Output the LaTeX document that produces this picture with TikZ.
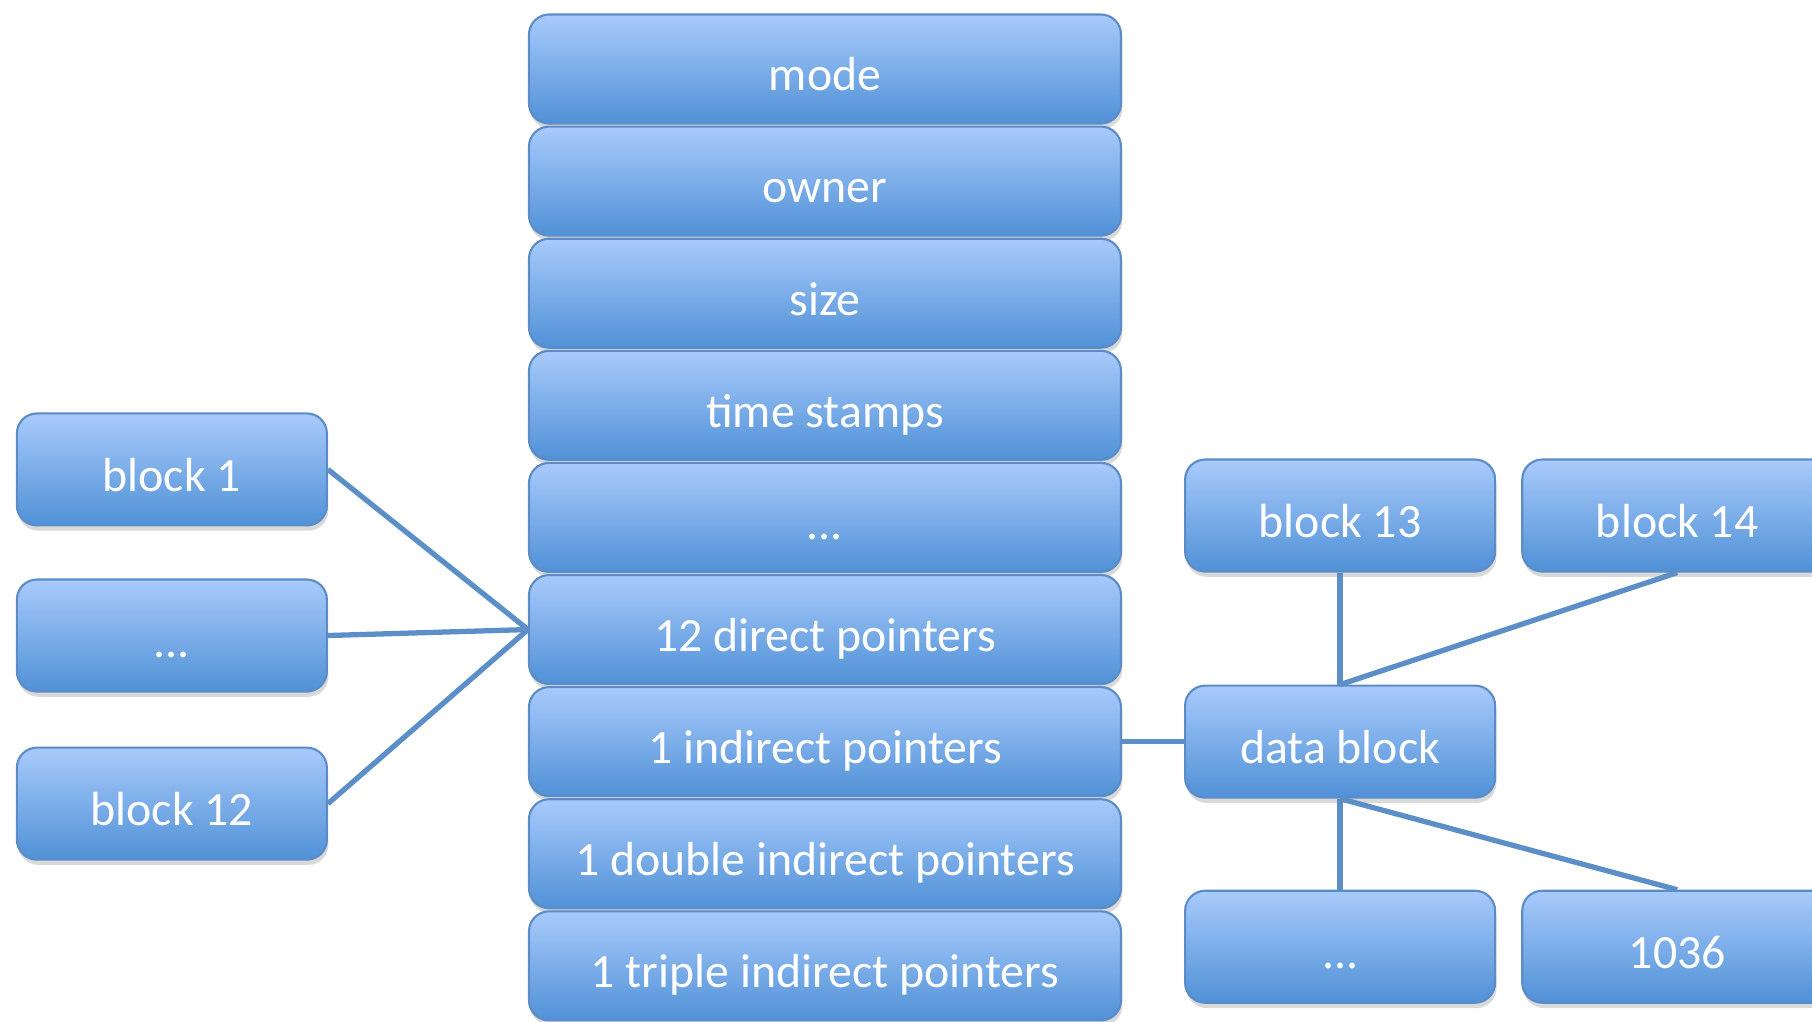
\documentclass[tikz,border=0pt]{standalone}
\usepackage{fontspec}
\setmainfont{Carlito}
\usetikzlibrary{positioning,shadows}
\definecolor{boxtop}{RGB}{168,202,251}
\definecolor{boxbottom}{RGB}{80,145,214}
\definecolor{boxline}{RGB}{92,140,200}
\definecolor{linkcol}{RGB}{92,142,200}
\tikzstyle{field} = [rectangle, rounded corners=0.2cm, text centered, draw=boxline, line width=0.6pt, top color=boxtop, bottom color=boxbottom, text=white, minimum width=5.92cm, minimum height=1.09cm, text height=12.4pt, text depth=0pt, font=\fontsize{13.6}{16}\selectfont, drop shadow={shadow xshift=0.4pt, shadow yshift=-1.5pt, opacity=0.3}]
\tikzstyle{block} = [field, minimum width=3.1cm, minimum height=1.12cm]
\tikzstyle{link} = [draw=linkcol, line width=1.5pt]

\begin{document}
\begin{tikzpicture}
		\useasboundingbox (0,0) rectangle (18.12,-10.22);
		% inode fields
		\node (mode) [field] at (8.25,-0.69) {mode};
		\node (owner) [field,below=0.01 of mode] {owner};
		\node (size) [field,below=0.01 of owner] {size};
		\node (time-stamps) [field,below=0.01 of size] {time stamps};
		\node (more-fields) [field,below=0.01 of time-stamps] {...};
		\node (direct) [field,below=0.01 of more-fields] {12 direct pointers};
		\node (indirect) [field,below=0.01 of direct] {1 indirect pointers};
		\node (double) [field,below=0.01 of indirect] {1 double indirect pointers};
		\node (triple) [field,below=0.01 of double] {1 triple indirect pointers};
		
		% direct blocks
		\node (left-dots) [block,left=2.0 of direct,yshift=-0.06cm] {...};
		\node (block-1) [block,above=0.52 of left-dots] {block 1};
		\node (block-12) [block,below=0.54 of left-dots] {block 12};
		
		% indirect blocks
		\node (data-block) [block,right=0.62 of indirect] {data block};
		\node (block-13) [block,above=1.12 of data-block] {block 13};
		\node (block-14) [block,right=0.25 of block-13] {block 14};
		\node (right-dots) [block,below=0.91 of data-block] {...};
		\node (last-block) [block,right=0.25 of right-dots] {1036};
		
		\draw [link] (block-1.east) -- (direct.west);
		\draw [link] (left-dots.east) -- (direct.west);
		\draw [link] (block-12.east) -- (direct.west);
		\draw [link] (indirect.east) -- (data-block.west);
		\draw [link] (block-13.south) -- (data-block.north);
		\draw [link] (block-14.south) -- (data-block.north);
		\draw [link] (data-block.south) -- (right-dots.north);
		\draw [link] (data-block.south) -- (last-block.north);
	\end{tikzpicture}
\end{document}
